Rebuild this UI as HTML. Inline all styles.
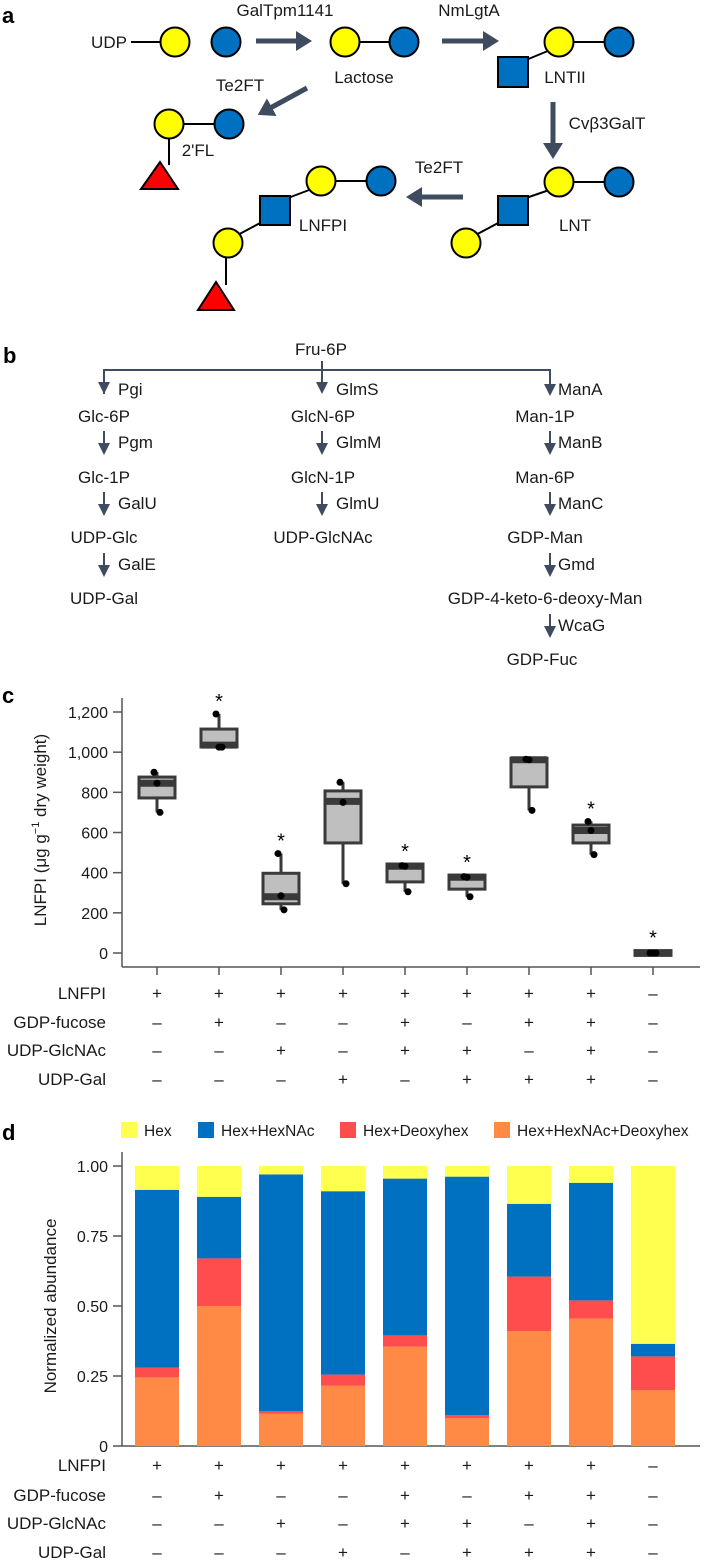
<!DOCTYPE html>
<html><head><meta charset="utf-8">
<style>
html,body{margin:0;padding:0;background:#fff;}
svg{display:block;font-family:"Liberation Sans",sans-serif;}
.t{font-size:17px;fill:#1a1a1a;}
.lg{font-size:15.5px;fill:#1a1a1a;}
.tk{font-size:16px;fill:#1a1a1a;}
.pl{font-size:22px;font-weight:bold;fill:#000;}
</style></head>
<body>
<svg id="fig" width="704" height="1562" viewBox="0 0 704 1562" xmlns="http://www.w3.org/2000/svg">
<defs>
<marker id="ah" markerWidth="4" markerHeight="4" refX="2" refY="2" orient="auto" markerUnits="strokeWidth"><path d="M0,0 L3.2,2 L0,4 z" fill="#3f4b5e"/></marker>
<marker id="ahs" markerWidth="6" markerHeight="6" refX="5" refY="3" orient="auto" markerUnits="strokeWidth"><path d="M0,0 L6,3 L0,6 z" fill="#3f4b5e"/></marker>
</defs>

<!-- Panel a -->
<g stroke="#000" stroke-width="2">
<text class="pl" x="2" y="23" stroke="none">a</text>
<text class="t" x="285" y="16" text-anchor="middle" stroke="none">GalTpm1141</text>
<text class="t" x="469" y="16" text-anchor="middle" stroke="none">NmLgtA</text>
<text class="t" x="109" y="48" text-anchor="middle" stroke="none">UDP</text>
<line x1="131" y1="42" x2="161" y2="42"/>
<circle cx="175" cy="42" r="14.5" fill="#ffff00"/>
<circle cx="226" cy="42" r="14.5" fill="#0070c0"/>
<line x1="256" y1="41" x2="306" y2="41" stroke="#3f4b5e" stroke-width="5" marker-end="url(#ah)"/>
<line x1="345" y1="42" x2="404" y2="42"/>
<circle cx="345" cy="42" r="14.5" fill="#ffff00"/>
<circle cx="404" cy="42" r="14.5" fill="#0070c0"/>
<text class="t" x="364" y="83" text-anchor="middle" stroke="none">Lactose</text>
<line x1="442" y1="41" x2="493" y2="41" stroke="#3f4b5e" stroke-width="5" marker-end="url(#ah)"/>
<line x1="559" y1="42" x2="619" y2="42"/>
<line x1="526" y1="60" x2="555" y2="48"/>
<circle cx="559" cy="42" r="14.5" fill="#ffff00"/>
<circle cx="619" cy="42" r="14.5" fill="#0070c0"/>
<rect x="498" y="57" width="30" height="30" fill="#0070c0"/>
<text class="t" x="565" y="83" text-anchor="middle" stroke="none">LNTII</text>
<text class="t" x="240" y="91" text-anchor="middle" stroke="none">Te2FT</text>
<line x1="307" y1="88" x2="263" y2="112" stroke="#3f4b5e" stroke-width="5" marker-end="url(#ah)"/>
<line x1="169" y1="124" x2="229" y2="124"/>
<line x1="169" y1="124" x2="169" y2="165"/>
<circle cx="169" cy="124" r="14.5" fill="#ffff00"/>
<circle cx="229" cy="124" r="14.5" fill="#0070c0"/>
<polygon points="160,162 178,189 141,189" fill="#ff0000"/>
<text class="t" x="198" y="156" text-anchor="middle" stroke="none">2'FL</text>
<line x1="553" y1="102" x2="553" y2="153" stroke="#3f4b5e" stroke-width="5" marker-end="url(#ah)"/>
<text class="t" x="607" y="129" text-anchor="middle" stroke="none">Cvβ3GalT</text>
<text class="t" x="439" y="173" text-anchor="middle" stroke="none">Te2FT</text>
<line x1="463" y1="197" x2="412" y2="197" stroke="#3f4b5e" stroke-width="5" marker-end="url(#ah)"/>
<!-- LNT -->
<line x1="559" y1="182" x2="619" y2="182"/>
<line x1="526" y1="198" x2="555" y2="188"/>
<line x1="470" y1="238" x2="500" y2="222"/>
<circle cx="559" cy="182" r="14.5" fill="#ffff00"/>
<circle cx="619" cy="182" r="14.5" fill="#0070c0"/>
<rect x="498" y="196" width="30" height="29" fill="#0070c0"/>
<circle cx="466" cy="243" r="14.5" fill="#ffff00"/>
<text class="t" x="575" y="231" text-anchor="middle" stroke="none">LNT</text>
<!-- LNFPI -->
<line x1="321" y1="181" x2="381" y2="181"/>
<line x1="288" y1="198" x2="317" y2="187"/>
<line x1="232" y1="238" x2="262" y2="222"/>
<line x1="226" y1="243" x2="226" y2="285"/>
<circle cx="321" cy="181" r="14.5" fill="#ffff00"/>
<circle cx="381" cy="181" r="14.5" fill="#0070c0"/>
<rect x="260" y="196" width="30" height="29" fill="#0070c0"/>
<circle cx="228" cy="243" r="14.5" fill="#ffff00"/>
<polygon points="216,282 234,310 198,310" fill="#ff0000"/>
<text class="t" x="323" y="231" text-anchor="middle" stroke="none">LNFPI</text>
</g>

<!-- Panel b -->
<g>
<text class="pl" x="3" y="363">b</text>
<text class="t" x="321" y="355" text-anchor="middle">Fru-6P</text>
<g stroke="#3f4b5e" stroke-width="2" fill="none">
<line x1="322" y1="361" x2="322" y2="370"/>
<polyline points="104,394 104,370 550,370 550,394" marker-end="url(#ahs)"/>
<line x1="104" y1="370" x2="104" y2="392" marker-end="url(#ahs)"/>
<line x1="322" y1="370" x2="322" y2="392" marker-end="url(#ahs)"/>
<line x1="104" y1="431" x2="104" y2="453" marker-end="url(#ahs)"/>
<line x1="104" y1="492" x2="104" y2="514" marker-end="url(#ahs)"/>
<line x1="104" y1="553" x2="104" y2="575" marker-end="url(#ahs)"/>
<line x1="322" y1="431" x2="322" y2="453" marker-end="url(#ahs)"/>
<line x1="322" y1="492" x2="322" y2="514" marker-end="url(#ahs)"/>
<line x1="550" y1="431" x2="550" y2="453" marker-end="url(#ahs)"/>
<line x1="550" y1="492" x2="550" y2="514" marker-end="url(#ahs)"/>
<line x1="550" y1="553" x2="550" y2="575" marker-end="url(#ahs)"/>
<line x1="550" y1="614" x2="550" y2="636" marker-end="url(#ahs)"/>
</g>
<g class="t">
<text x="118" y="395">Pgi</text><text x="336" y="395">GlmS</text><text x="558" y="395">ManA</text>
<text x="104" y="422" text-anchor="middle">Glc-6P</text><text x="323" y="422" text-anchor="middle">GlcN-6P</text><text x="545" y="422" text-anchor="middle">Man-1P</text>
<text x="118" y="448">Pgm</text><text x="336" y="448">GlmM</text><text x="558" y="448">ManB</text>
<text x="104" y="483" text-anchor="middle">Glc-1P</text><text x="323" y="483" text-anchor="middle">GlcN-1P</text><text x="545" y="483" text-anchor="middle">Man-6P</text>
<text x="118" y="509">GalU</text><text x="336" y="509">GlmU</text><text x="558" y="509">ManC</text>
<text x="104" y="543" text-anchor="middle">UDP-Glc</text><text x="323" y="543" text-anchor="middle">UDP-GlcNAc</text><text x="545" y="543" text-anchor="middle">GDP-Man</text>
<text x="118" y="570">GalE</text><text x="558" y="570">Gmd</text>
<text x="104" y="604" text-anchor="middle">UDP-Gal</text><text x="545" y="604" text-anchor="middle">GDP-4-keto-6-deoxy-Man</text>
<text x="558" y="631">WcaG</text>
<text x="542" y="665" text-anchor="middle">GDP-Fuc</text>
</g>
</g>

<g id="panelC">
<text class="pl" x="2" y="703">c</text>
</g>
<g id="panelD">
<text class="pl" x="2" y="1140">d</text>
</g>
</svg>
<script>
// ---- Panel c data ----
const cYTicks = [0, 200, 400, 600, 800, 1000, 1200];
const cYTickLabels = ["0", "200", "400", "600", "800", "1,000", "1,200"];
const boxQ1 = [772, 1026, 245, 548, 354, 318, 827, 548, -12];
const boxMedian = [845, 1035, 280, 755, 432, 377, 962, 610, 0];
const boxQ3 = [876, 1115, 397, 807, 443, 388, 970, 637, 12];
const whiskerLo = [700, 1026, 215, 345, 305, 280, 710, 490, -12];
const whiskerHi = [900, 1190, 495, 850, 443, 388, 970, 655, 12];
const pointsA = [900, 1190, 495, 850, 435, 380, 965, 655, 0];
const pointsB = [845, 1025, 285, 750, 432, 377, 962, 610, 0];
const pointsC = [700, 1025, 215, 345, 305, 280, 710, 490, 0];
const significant = [0, 1, 1, 0, 1, 1, 0, 1, 1];
// ---- Panel d data ----
const dYTicks = [0, 0.25, 0.5, 0.75, 1.0];
const dYTickLabels = ["0", "0.25", "0.50", "0.75", "1.00"];
const segHexHexNAcDeoxy = [0.245, 0.50, 0.115, 0.215, 0.355, 0.10, 0.41, 0.455, 0.20];
const segHexDeoxy = [0.035, 0.17, 0.01, 0.04, 0.04, 0.01, 0.195, 0.065, 0.12];
const segHexHexNAc = [0.635, 0.22, 0.845, 0.655, 0.56, 0.852, 0.26, 0.42, 0.045];
const segHex = [0.085, 0.11, 0.03, 0.09, 0.045, 0.038, 0.135, 0.06, 0.635];
// ---- condition table ----
const rowNames = ["LNFPI", "GDP-fucose", "UDP-GlcNAc", "UDP-Gal"];
const rowLNFPI = ["+","+","+","+","+","+","+","+","–"];
const rowGDPFuc = ["–","+","–","–","+","–","+","+","–"];
const rowUDPGlcNAc = ["–","–","+","–","+","+","–","+","–"];
const rowUDPGal = ["–","–","–","+","–","+","+","+","–"];

const NS = "http://www.w3.org/2000/svg";
function mk(parent, tag, attrs, txt) {
  const e = document.createElementNS(NS, tag);
  for (const k in attrs) e.setAttribute(k, attrs[k]);
  if (txt !== undefined) e.textContent = txt;
  parent.appendChild(e);
  return e;
}
const xCat = i => 157 + i * 62;
const cY = v => 953 - v * (241 / 1200);
const dY = v => 1446 - v * 280;

const pc = document.getElementById("panelC");
let ax = mk(pc, "line", {x1:122, y1:698, x2:122, y2:967, stroke:"#555", "stroke-width":1.5});


ax = mk(pc, "line", {x1:122, y1:967, x2:700, y2:967, stroke:"#555", "stroke-width":1.5});


cYTicks.forEach((v, i) => {
  mk(pc, "line", {x1:113, y1:cY(v), x2:122, y2:cY(v), stroke:"#555", "stroke-width":1.5});
  const t = mk(pc, "text", {x:108, y:cY(v)+6, "text-anchor":"end", class:"tk"}, cYTickLabels[i]);
  
  
});
let yt = mk(pc, "text", {x:0, y:0, transform:"translate(46,830) rotate(-90)", "text-anchor":"middle", class:"t"});
yt.innerHTML = 'LNFPI (μg g<tspan dy="-7" font-size="11">−1</tspan><tspan dy="7"> dry weight)</tspan>';


const bw = 36;
boxQ1.forEach((q1, i) => {
  const x = xCat(i);
  mk(pc, "line", {x1:x, y1:967, x2:x, y2:975, stroke:"#555", "stroke-width":1.5});
  const g = mk(pc, "g", {});
  
  
  mk(g, "line", {x1:x, y1:cY(whiskerLo[i]), x2:x, y2:cY(whiskerHi[i]), stroke:"#3a3a3a", "stroke-width":3});
  mk(g, "rect", {x:x-bw/2, y:cY(boxQ3[i]), width:bw, height:Math.max(cY(q1)-cY(boxQ3[i]),4), fill:"#bfbfbf", stroke:"#3a3a3a", "stroke-width":3});
  mk(g, "line", {x1:x-bw/2, y1:cY(boxMedian[i]), x2:x+bw/2, y2:cY(boxMedian[i]), stroke:"#3a3a3a", "stroke-width":7});
  [pointsA[i], pointsB[i], pointsC[i]].forEach((p, j) => {
    const c = mk(g, "circle", {cx:x + (j-1)*3, cy:cY(p), r:3.5, fill:"#000"});
    
    
  });
  if (significant[i]) {
    const s = mk(pc, "text", {x:x, y:cY(whiskerHi[i]) - 6, "text-anchor":"middle", "font-size":"20", fill:"#000"}, "*");
    
    
  }
});

const pd = document.getElementById("panelD");
ax = mk(pd, "line", {x1:122, y1:1152, x2:122, y2:1446, stroke:"#555", "stroke-width":1.5});


ax = mk(pd, "line", {x1:122, y1:1446, x2:700, y2:1446, stroke:"#555", "stroke-width":1.5});


dYTicks.forEach((v, i) => {
  mk(pd, "line", {x1:113, y1:dY(v), x2:122, y2:dY(v), stroke:"#555", "stroke-width":1.5});
  const t = mk(pd, "text", {x:108, y:dY(v)+6, "text-anchor":"end", class:"tk"}, dYTickLabels[i]);
  
  
});
yt = mk(pd, "text", {transform:"translate(56,1306) rotate(-90)", "text-anchor":"middle", class:"t"}, "Normalized abundance");


const segs = [segHexHexNAcDeoxy, segHexDeoxy, segHexHexNAc, segHex];
const segColors = ["#ff8a45", "#ff4d4d", "#0070c0", "#ffff4f"];
const segNames = ["Hex+HexNAc+Deoxyhex", "Hex+Deoxyhex", "Hex+HexNAc", "Hex"];
segHex.forEach((_, i) => {
  let cum = 0;
  segs.forEach((arr, k) => {
    const r = mk(pd, "rect", {x:xCat(i)-22, y:dY(cum+arr[i]), width:44, height:dY(cum)-dY(cum+arr[i]), fill:segColors[k]});
    
    
    cum += arr[i];
  });
});
const legX = [121, 198, 340, 494];
const legOrder = [3, 2, 1, 0];
legOrder.forEach((k, j) => {
  const g = mk(pd, "g", {});
  
  
  mk(g, "rect", {x:legX[j], y:1122, width:16, height:16, fill:segColors[k]});
  mk(g, "text", {x:legX[j]+23, y:1136, class:"lg"}, segNames[k]);
});

const rows = [rowLNFPI, rowGDPFuc, rowUDPGlcNAc, rowUDPGal];
function table(parent, ys, prefix) {
  rows.forEach((row, r) => {
    const l = mk(parent, "text", {x:106, y:ys[r]+6, "text-anchor":"end", class:"t"}, rowNames[r]);
    
    
    row.forEach((s, i) => {
      const t = mk(parent, "text", {x:xCat(i), y:ys[r]+6, "text-anchor":"middle", class:"t"}, s);
      
      
    });
  });
}
table(pc, [993, 1022, 1050, 1079], "c");
table(pd, [1465, 1495, 1523, 1552], "d");
</script>
</body></html>
